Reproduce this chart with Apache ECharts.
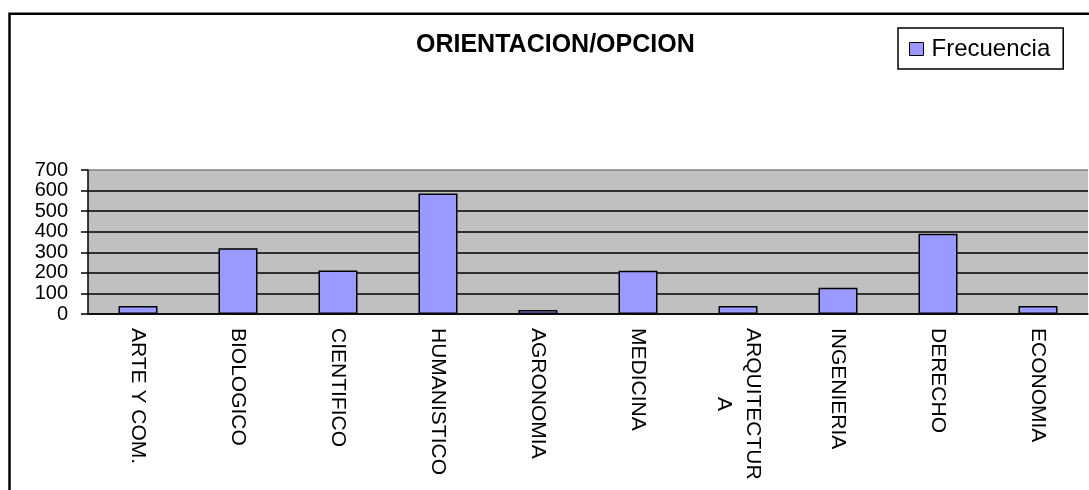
<!DOCTYPE html>
<html>
<head>
<meta charset="utf-8">
<script src="https://cdn.jsdelivr.net/npm/echarts@6/dist/echarts.min.js"></script>
<style>
  html, body { margin: 0; padding: 0; background: #fff; }
  #grafico { width: 1089px; height: 490px; }
</style>
</head>
<body>
<div id="grafico"></div>
<script>
// datos
const categorias = ['ARTE Y COM.', 'BIOLOGICO', 'CIENTIFICO', 'HUMANISTICO', 'AGRONOMIA',
  'MEDICINA', 'ARQUITECTURA', 'INGENIERIA', 'DERECHO', 'ECONOMIA']
const frecuencia = [39, 320, 211, 586, 20, 210, 39, 128, 390, 39]
const ticksY = [0, 100, 200, 300, 400, 500, 600, 700]

const fuente = '"Liberation Sans", Arial, sans-serif'
let myChart = echarts.init(document.getElementById('grafico'), null, { renderer: 'canvas' })

let option = {
  backgroundColor: '#fff',
  animation: false,
  title: {
    text: 'ORIENTACION/OPCION',
    left: 416,
    top: 33,
    padding: 0,
    textStyle: { fontFamily: fuente, fontSize: 25, fontWeight: 'bold', color: '#000' }
  },
  legend: {
    data: ['Frecuencia'],
    left: 898,
    top: 28,
    padding: [9, 13, 8, 11],
    itemGap: 0,
    itemWidth: 14,
    itemHeight: 13,
    icon: 'rect',
    borderColor: '#000',
    borderWidth: 1.5,
    backgroundColor: '#fff',
    itemStyle: { borderColor: '#000', borderWidth: 1 },
    textStyle: { fontFamily: fuente, fontSize: 24, color: '#000', padding: [0, 0, 0, 3] }
  },
  graphic: [
    {
      type: 'rect',
      shape: { x: 9.5, y: 13.8, width: 1200, height: 600 },
      style: { fill: 'none', stroke: '#000', lineWidth: 2.5 },
      z: 10
    }
  ],
  grid: {
    left: 88,
    top: 170,
    right: 1,
    height: 144,
    show: true,
    backgroundColor: '#C0C0C0',
    borderWidth: 0
  },
  xAxis: {
    type: 'category',
    data: categorias,
    axisLine: { lineStyle: { color: '#000', width: 1.5 } },
    axisTick: { length: 6, lineStyle: { color: '#000', width: 1.5 } },
    axisLabel: {
      interval: 0,
      rotate: -90,
      margin: 14,
      color: '#000',
      fontFamily: fuente,
      fontSize: 21,
      lineHeight: 29,
      formatter: v => v === 'ARQUITECTURA' ? '{a|ARQUITECTUR}\n{b|A}' : v,
      rich: {
        a: { fontFamily: fuente, fontSize: 21, lineHeight: 29, color: '#000' },
        b: { fontFamily: fuente, fontSize: 21, lineHeight: 29, color: '#000', width: 152, align: 'center' }
      }
    }
  },
  yAxis: {
    type: 'value',
    min: ticksY[0],
    max: ticksY[ticksY.length - 1],
    interval: 100,
    axisLine: { show: true, lineStyle: { color: '#000', width: 1.5 } },
    axisTick: { show: true, length: 7, lineStyle: { color: '#000', width: 1.5 } },
    axisLabel: {
      margin: 20,
      color: '#000',
      fontFamily: fuente,
      fontSize: 20
    },
    splitLine: {
      lineStyle: {
        color: ['#000', '#000', '#000', '#000', '#000', '#000', '#000', '#808080'],
        width: 1.5
      }
    }
  },
  series: [
    {
      name: 'Frecuencia',
      type: 'bar',
      data: frecuencia,
      barWidth: 39,
      itemStyle: {
        color: '#9999FF',
        borderColor: '#000',
        borderWidth: 1.5
      }
    }
  ]
}

myChart.setOption(option)
</script>
</body>
</html>
